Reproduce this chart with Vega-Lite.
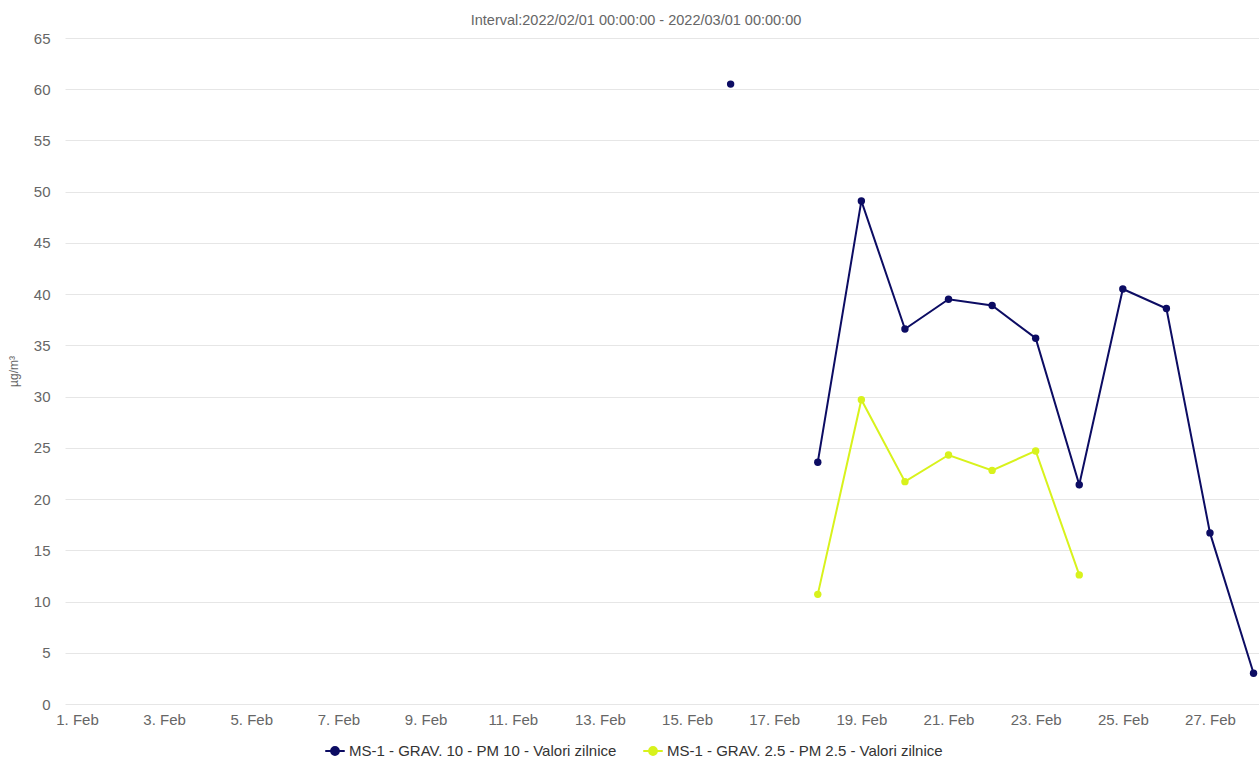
{
  "$schema": "https://vega.github.io/schema/vega-lite/v6.json",
  "width": 1194,
  "height": 666,
  "autosize": {"type": "none"},
  "padding": {"left": 65, "top": 38, "right": 0, "bottom": 54},
  "background": "white",
  "title": {
    "text": "Interval:2022/02/01 00:00:00 - 2022/03/01 00:00:00",
    "fontSize": 14.5,
    "font": "Liberation Sans",
    "fontWeight": "normal",
    "color": "#666666",
    "anchor": "middle",
    "offset": 3,
    "dx": -26
  },
  "data": {
    "values": [
      {"date": "2022-02-16", "series": "MS-1 - GRAV. 10 - PM 10 - Valori zilnice", "value": 60.5},
      {"date": "2022-02-17", "series": "MS-1 - GRAV. 10 - PM 10 - Valori zilnice", "value": null},
      {"date": "2022-02-18", "series": "MS-1 - GRAV. 10 - PM 10 - Valori zilnice", "value": 23.6},
      {"date": "2022-02-19", "series": "MS-1 - GRAV. 10 - PM 10 - Valori zilnice", "value": 49.1},
      {"date": "2022-02-20", "series": "MS-1 - GRAV. 10 - PM 10 - Valori zilnice", "value": 36.6},
      {"date": "2022-02-21", "series": "MS-1 - GRAV. 10 - PM 10 - Valori zilnice", "value": 39.5},
      {"date": "2022-02-22", "series": "MS-1 - GRAV. 10 - PM 10 - Valori zilnice", "value": 38.9},
      {"date": "2022-02-23", "series": "MS-1 - GRAV. 10 - PM 10 - Valori zilnice", "value": 35.7},
      {"date": "2022-02-24", "series": "MS-1 - GRAV. 10 - PM 10 - Valori zilnice", "value": 21.4},
      {"date": "2022-02-25", "series": "MS-1 - GRAV. 10 - PM 10 - Valori zilnice", "value": 40.5},
      {"date": "2022-02-26", "series": "MS-1 - GRAV. 10 - PM 10 - Valori zilnice", "value": 38.6},
      {"date": "2022-02-27", "series": "MS-1 - GRAV. 10 - PM 10 - Valori zilnice", "value": 16.7},
      {"date": "2022-02-28", "series": "MS-1 - GRAV. 10 - PM 10 - Valori zilnice", "value": 3.0},
      {"date": "2022-02-18", "series": "MS-1 - GRAV. 2.5 - PM 2.5 - Valori zilnice", "value": 10.7},
      {"date": "2022-02-19", "series": "MS-1 - GRAV. 2.5 - PM 2.5 - Valori zilnice", "value": 29.7},
      {"date": "2022-02-20", "series": "MS-1 - GRAV. 2.5 - PM 2.5 - Valori zilnice", "value": 21.7},
      {"date": "2022-02-21", "series": "MS-1 - GRAV. 2.5 - PM 2.5 - Valori zilnice", "value": 24.3},
      {"date": "2022-02-22", "series": "MS-1 - GRAV. 2.5 - PM 2.5 - Valori zilnice", "value": 22.8},
      {"date": "2022-02-23", "series": "MS-1 - GRAV. 2.5 - PM 2.5 - Valori zilnice", "value": 24.7},
      {"date": "2022-02-24", "series": "MS-1 - GRAV. 2.5 - PM 2.5 - Valori zilnice", "value": 12.6}
    ]
  },
  "mark": {
    "type": "line",
    "strokeWidth": 2,
    "invalid": "break-paths-show-domains",
    "point": {"filled": true, "size": 55, "opacity": 1}
  },
  "encoding": {
    "x": {
      "field": "date",
      "type": "temporal",
      "scale": {
        "type": "utc",
        "domain": [
          {"year": 2022, "month": 1, "date": 31, "hours": 17, "minutes": 24, "utc": true},
          {"year": 2022, "month": 2, "date": 28, "hours": 3, "utc": true}
        ]
      },
      "axis": {
        "title": null,
        "format": "%-d. %b",
        "values": [
          {"year": 2022, "month": 2, "date": 1, "utc": true},
          {"year": 2022, "month": 2, "date": 3, "utc": true},
          {"year": 2022, "month": 2, "date": 5, "utc": true},
          {"year": 2022, "month": 2, "date": 7, "utc": true},
          {"year": 2022, "month": 2, "date": 9, "utc": true},
          {"year": 2022, "month": 2, "date": 11, "utc": true},
          {"year": 2022, "month": 2, "date": 13, "utc": true},
          {"year": 2022, "month": 2, "date": 15, "utc": true},
          {"year": 2022, "month": 2, "date": 17, "utc": true},
          {"year": 2022, "month": 2, "date": 19, "utc": true},
          {"year": 2022, "month": 2, "date": 21, "utc": true},
          {"year": 2022, "month": 2, "date": 23, "utc": true},
          {"year": 2022, "month": 2, "date": 25, "utc": true},
          {"year": 2022, "month": 2, "date": 27, "utc": true}
        ],
        "grid": false,
        "ticks": false,
        "domain": false,
        "labelFont": "Liberation Sans",
        "labelFontSize": 15,
        "labelColor": "#666666",
        "labelPadding": 8,
        "labelOverlap": false,
        "labelFlush": false
      }
    },
    "y": {
      "field": "value",
      "type": "quantitative",
      "scale": {"domain": [0, 65], "nice": false, "zero": true},
      "axis": {
        "title": "µg/m³",
        "titleFont": "Liberation Sans",
        "titleFontSize": 12,
        "titleFontWeight": "normal",
        "titleColor": "#666666",
        "titlePadding": 13,
        "values": [0, 5, 10, 15, 20, 25, 30, 35, 40, 45, 50, 55, 60, 65],
        "grid": true,
        "gridColor": "#e6e6e6",
        "gridWidth": 1,
        "ticks": false,
        "domain": false,
        "labelFont": "Liberation Sans",
        "labelFontSize": 15,
        "labelColor": "#666666",
        "labelPadding": 15
      }
    },
    "color": {
      "field": "series",
      "type": "nominal",
      "scale": {
        "domain": ["MS-1 - GRAV. 10 - PM 10 - Valori zilnice", "MS-1 - GRAV. 2.5 - PM 2.5 - Valori zilnice"],
        "range": ["#0c0c63", "#d8f21c"]
      },
      "legend": {
        "title": null,
        "orient": "none",
        "direction": "horizontal",
        "legendX": 259,
        "legendY": 702,
        "padding": 0,
        "columnPadding": 22,
        "labelFont": "Liberation Sans",
        "labelFontSize": 15,
        "labelColor": "#333333",
        "labelLimit": 500,
        "symbolType": "M-1,0L1,0M-0.4,0A0.4,0.4,0,1,0,0.4,0A0.4,0.4,0,1,0,-0.4,0Z",
        "symbolSize": 380,
        "symbolStrokeWidth": 2,
        "labelOffset": 3,
        "encode": {
          "symbols": {"update": {"fill": {"scale": "color", "field": "value"}, "fillOpacity": {"value": 1}}}
        }
      }
    }
  },
  "config": {
    "view": {"stroke": null}
  }
}
